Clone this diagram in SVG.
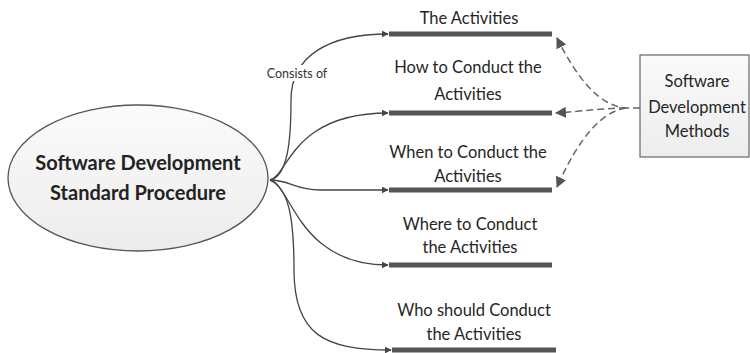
<svg xmlns="http://www.w3.org/2000/svg" width="750" height="353" viewBox="0 0 750 353">
  <defs>
    <linearGradient id="gEll" x1="0" y1="0" x2="0" y2="1">
      <stop offset="0" stop-color="#fbfbfb"/>
      <stop offset="1" stop-color="#ececec"/>
    </linearGradient>
    <linearGradient id="gBox" x1="0" y1="0" x2="0" y2="1">
      <stop offset="0" stop-color="#fafafa"/>
      <stop offset="1" stop-color="#ededed"/>
    </linearGradient>
    <marker id="solidArrow" viewBox="0 0 10 10" refX="9" refY="5" markerWidth="7" markerHeight="7" markerUnits="userSpaceOnUse" orient="auto">
      <path d="M0,0 L10,5 L0,10 z" fill="#444"/>
    </marker>
    <marker id="dashArrow" viewBox="0 0 10 10" refX="9" refY="5" markerWidth="11" markerHeight="11" markerUnits="userSpaceOnUse" orient="auto">
      <path d="M0,0 L10,5 L0,10 z" fill="#555"/>
    </marker>
  </defs>
  <style>
    .lbl { font-family: "Lato", "Liberation Sans", sans-serif; font-size: 16.5px; fill: #262626; text-anchor: middle; }
    .bar { stroke: #555; stroke-width: 5; fill: none; }
    .conn { stroke: #444; stroke-width: 1.3; fill: none; marker-end: url(#solidArrow); }
    .dash { stroke: #666; stroke-width: 1.5; fill: none; stroke-dasharray: 7 4; marker-end: url(#dashArrow); }
    .main { font-family: "Lato", "Liberation Sans", sans-serif; font-size: 20px; font-weight: bold; fill: #222; text-anchor: middle; }
    .small { font-family: "Lato", "Liberation Sans", sans-serif; font-size: 12.5px; fill: #333; text-anchor: middle; }
  </style>
  <rect width="750" height="353" fill="#ffffff"/>

  <g id="connectors">
    <path class="conn" d="M270,180 C288,176 291,140 291,100 C291,55 330,34 388,34"/>
    <path class="conn" d="M270,180 C288,176 292,113 388,113"/>
    <path class="conn" d="M270,180 C290,180 295,190 320,190 L388,190"/>
    <path class="conn" d="M270,180 C292,186 298,265 388,265"/>
    <path class="conn" d="M270,180 C288,188 294,215 294,270 C294,335 325,350 391,350"/>
    <path class="dash" d="M640,108 L626,108 C600,106 578,80 557,38"/>
    <path class="dash" d="M626,108 C605,108 585,111 556,113"/>
    <path class="dash" d="M626,108 C600,112 578,140 557,187"/>
  </g>

  <g id="consists-label">
    <rect x="263" y="65" width="68" height="16" fill="#ffffff"/>
    <text class="small" x="297" y="78">Consists of</text>
  </g>

  <g id="main-node">
    <ellipse cx="138" cy="178" rx="130" ry="73" fill="url(#gEll)" stroke="#555" stroke-width="1.3"/>
    <text class="main" x="138" y="170">Software Development</text>
    <text class="main" x="138" y="200">Standard Procedure</text>
  </g>

  <g id="node-activities">
    <line class="bar" x1="389" y1="34" x2="552" y2="34"/>
    <text class="lbl" x="469" y="24">The Activities</text>
  </g>
  <g id="node-how">
    <line class="bar" x1="389" y1="113" x2="552" y2="113"/>
    <text class="lbl" x="468" y="73">How to Conduct the</text>
    <text class="lbl" x="468" y="100">Activities</text>
  </g>
  <g id="node-when">
    <line class="bar" x1="389" y1="190" x2="552" y2="190"/>
    <text class="lbl" x="468" y="158">When to Conduct the</text>
    <text class="lbl" x="468" y="182">Activities</text>
  </g>
  <g id="node-where">
    <line class="bar" x1="389" y1="265" x2="552" y2="265"/>
    <text class="lbl" x="470" y="230">Where to Conduct</text>
    <text class="lbl" x="470" y="253">the Activities</text>
  </g>
  <g id="node-who">
    <line class="bar" x1="392" y1="350" x2="556" y2="350"/>
    <text class="lbl" x="474" y="316">Who should Conduct</text>
    <text class="lbl" x="474" y="340">the Activities</text>
  </g>

  <g id="node-methods">
    <rect x="640" y="55" width="109" height="102" fill="url(#gBox)" stroke="#666" stroke-width="1.2"/>
    <text class="lbl" x="697" y="87">Software</text>
    <text class="lbl" x="697" y="113">Development</text>
    <text class="lbl" x="697" y="137">Methods</text>
  </g>
</svg>
